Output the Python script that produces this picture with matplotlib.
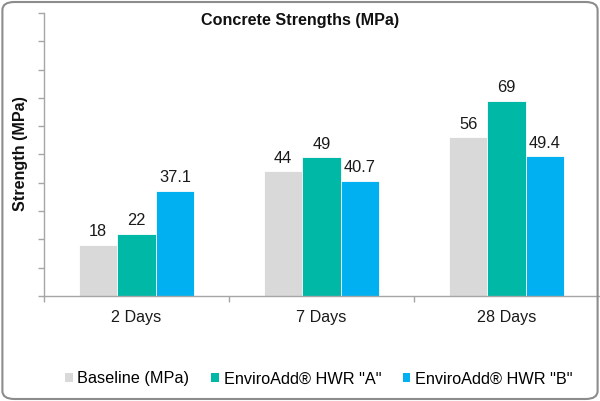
import matplotlib.pyplot as plt
import numpy as np
from matplotlib.patches import FancyBboxPatch, Patch

categories = ["2 Days", "7 Days", "28 Days"]
series_names = ["Baseline (MPa)", 'EnviroAdd® HWR "A"', 'EnviroAdd® HWR "B"']
baseline = [18, 44, 56]
hwr_a = [22, 49, 69]
hwr_b = [37.1, 40.7, 49.4]
labels_base = ["18", "44", "56"]
labels_a = ["22", "49", "69"]
labels_b = ["37.1", "40.7", "49.4"]

colors = ["#D9D9D9", "#00B8A6", "#00B0F0"]
axis_col = "#A6A6A6"

plt.rcParams['font.family'] = ['Liberation Sans', 'DejaVu Sans']

fig = plt.figure(figsize=(6, 4.01), dpi=100)
ax = fig.add_axes([0.0733, 0.262, 0.925, 0.7056])

x = np.arange(len(categories))
w = 0.207
data = [baseline, hwr_a, hwr_b]
texts = [labels_base, labels_a, labels_b]
for i, (vals, c, txt) in enumerate(zip(data, colors, texts)):
    bars = ax.bar(x + (i - 1) * w, vals, w, color=c, edgecolor="white", linewidth=0.6)
    for b, t in zip(bars, txt):
        ax.annotate(t, (b.get_x() + b.get_width() / 2, b.get_height()),
                    xytext=(0, 4), textcoords="offset points",
                    ha="center", va="bottom", fontsize=11.8, color="#1a1a1a")

ax.set_xlim(-0.5, 2.5)
ax.set_ylim(0, 100)
ax.set_yticks(np.arange(0, 101, 10))
ax.set_yticklabels([])
ax.tick_params(axis="y", direction="out", length=4, color=axis_col, width=1)
ax.set_xticks(x)
ax.set_xticklabels(categories, fontsize=11.6, color="#1a1a1a")
ax.tick_params(axis="x", length=0, pad=10)
ax.set_xticks([-0.5, 0.5, 1.5], minor=True)
ax.tick_params(axis="x", which="minor", direction="out", length=4, color=axis_col, width=1)
for s in ["top", "right"]:
    ax.spines[s].set_visible(False)
for s in ["left", "bottom"]:
    ax.spines[s].set_color(axis_col)
    ax.spines[s].set_linewidth(1)
ax.patch.set_alpha(0)

fig.text(0.5, 1 - 20 / 401, "Concrete Strengths (MPa)", ha="center", va="center",
         fontsize=11.6, fontweight="bold", color="#111111")
fig.text(21 / 600, 1 - 154 / 401, "Strength (MPa)", ha="center", va="center",
         rotation=90, fontsize=11.6, fontweight="bold", color="#111111")

handles = [Patch(facecolor=c, edgecolor="none") for c in colors]
fig.legend(handles, series_names, loc="center", bbox_to_anchor=(319 / 600, 1 - 379 / 401),
           ncol=3, frameon=False, fontsize=11.7, handlelength=0.45, handleheight=0.45,
           handletextpad=0.3, columnspacing=1.35, borderpad=0, borderaxespad=0)

border = FancyBboxPatch((0.004, 0.005), 0.992, 0.99, boxstyle="round,pad=0,rounding_size=0.02",
                        transform=fig.transFigure, facecolor="none", edgecolor="#8C8C8C",
                        linewidth=1.5, zorder=10)
fig.patches.append(border)

fig.savefig("out.png", dpi=100)
